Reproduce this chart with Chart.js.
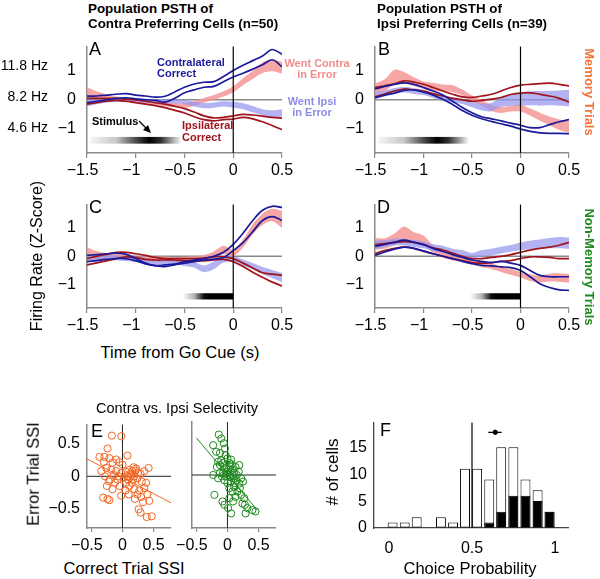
<!DOCTYPE html>
<html><head><meta charset="utf-8">
<script src="https://cdn.jsdelivr.net/npm/chart.js@4.4.0/dist/chart.umd.min.js"></script>
<style>
html,body{margin:0;padding:0;background:#fff;}
#root{position:relative;width:600px;height:579px;overflow:hidden;font-family:"Liberation Sans",Arial,Helvetica,sans-serif;}
canvas{position:absolute;}
.t{position:absolute;white-space:nowrap;line-height:1;}
</style></head><body><div id="root"></div>
<script>
// ---------- DATA ----------
const time = [-1.5,-1.4,-1.3,-1.2,-1.1,-1.0,-0.9,-0.8,-0.7,-0.6,-0.5,-0.4,-0.3,-0.2,-0.1,0,0.1,0.2,0.3,0.4,0.5];
const timeTicks = [-1.5,-1,-0.5,0,0.5];
const zTicks = [-1,0,1];

// Panel A (contra preferring, memory)
const aContraHi = [0.13,0.13,0.16,0.19,0.21,0.16,0.13,0.09,0.12,0.27,0.43,0.54,0.60,0.62,0.80,1.00,1.18,1.34,1.50,1.72,1.56];
const aContraLo = [-0.10,-0.05,0.00,0.05,0.07,0.03,0.00,-0.02,-0.08,0.05,0.24,0.34,0.43,0.46,0.62,0.78,0.91,1.05,1.20,1.37,1.13];
const aIpsiHi   = [0.05,0.05,0.05,0.05,0.02,0.00,-0.05,-0.10,-0.15,-0.22,-0.30,-0.42,-0.55,-0.62,-0.60,-0.55,-0.50,-0.52,-0.56,-0.60,-0.63];
const aIpsiLo   = [-0.15,-0.10,-0.05,-0.02,-0.05,-0.10,-0.15,-0.20,-0.27,-0.36,-0.45,-0.58,-0.68,-0.72,-0.68,-0.66,-0.60,-0.65,-0.75,-0.88,-1.02];
const aErrContraMid  = [0.25,0.15,0.08,0.03,0.00,-0.05,-0.08,-0.10,-0.15,-0.18,-0.20,-0.12,-0.02,0.08,0.20,0.36,0.62,0.85,1.10,1.18,1.10];
const aErrContraHalf = [0.18,0.14,0.10,0.08,0.08,0.08,0.07,0.07,0.07,0.07,0.08,0.08,0.08,0.08,0.09,0.10,0.12,0.14,0.18,0.20,0.20];
const aErrIpsiMid    = [-0.10,-0.05,-0.02,0.00,0.00,-0.02,-0.03,-0.05,-0.05,-0.06,-0.08,-0.15,-0.20,-0.18,-0.14,-0.17,-0.22,-0.32,-0.43,-0.48,-0.45];
const aErrIpsiHalf   = [0.12,0.10,0.08,0.07,0.07,0.07,0.07,0.07,0.07,0.07,0.07,0.08,0.09,0.09,0.09,0.10,0.10,0.11,0.11,0.12,0.13];

// Panel B (ipsi preferring, memory)
const bContraHi = [0.37,0.46,0.53,0.58,0.53,0.42,0.30,0.16,-0.05,-0.26,-0.44,-0.58,-0.65,-0.72,-0.80,-0.87,-0.95,-0.95,-0.85,-0.75,-0.68];
const bContraLo = [0.07,0.16,0.23,0.32,0.34,0.26,0.16,0.02,-0.16,-0.37,-0.53,-0.65,-0.74,-0.82,-0.90,-1.00,-1.08,-1.13,-1.15,-1.15,-1.16];
const bIpsiHi   = [0.42,0.48,0.55,0.65,0.61,0.53,0.42,0.30,0.19,0.10,0.08,0.13,0.19,0.30,0.42,0.50,0.53,0.55,0.57,0.53,0.47];
const bIpsiLo   = [0.10,0.20,0.30,0.37,0.34,0.30,0.21,0.13,0.05,0.00,-0.05,-0.02,0.02,0.08,0.18,0.23,0.24,0.19,0.13,0.05,-0.08];
const bErrContraMid  = [0.38,0.50,0.78,0.75,0.62,0.50,0.45,0.40,0.38,0.25,0.05,-0.10,-0.28,-0.35,-0.30,-0.28,-0.42,-0.58,-0.72,-0.85,-0.92];
const bErrContraHalf = [0.18,0.20,0.25,0.20,0.15,0.13,0.13,0.12,0.12,0.10,0.10,0.10,0.10,0.10,0.10,0.12,0.12,0.14,0.15,0.18,0.20];
const bErrIpsiMid    = [0.15,0.22,0.30,0.35,0.30,0.25,0.15,0.05,0.00,-0.05,-0.15,-0.25,-0.25,-0.08,0.00,0.02,0.05,0.05,0.06,0.06,0.06];
const bErrIpsiHalf   = [0.12,0.10,0.10,0.10,0.10,0.09,0.09,0.09,0.09,0.09,0.10,0.12,0.14,0.16,0.20,0.22,0.24,0.25,0.25,0.26,0.28];

// Panel C (contra preferring, non-memory)
const cContraHi = [0.03,0.06,0.09,0.11,0.07,-0.08,-0.24,-0.33,-0.30,-0.27,-0.19,-0.13,-0.08,0.00,0.14,0.42,0.81,1.26,1.62,1.76,1.72];
const cContraLo = [-0.19,-0.15,-0.11,-0.08,-0.08,-0.16,-0.27,-0.33,-0.36,-0.30,-0.24,-0.19,-0.13,-0.10,-0.04,0.20,0.48,0.87,1.26,1.40,1.26];
const cIpsiHi   = [-0.08,0.00,0.07,0.14,0.14,0.09,0.03,-0.04,-0.08,-0.08,-0.08,-0.08,-0.06,-0.02,-0.02,-0.08,-0.24,-0.41,-0.58,-0.63,-0.67];
const cIpsiLo   = [-0.30,-0.23,-0.16,-0.08,-0.02,-0.04,-0.11,-0.13,-0.13,-0.13,-0.16,-0.16,-0.16,-0.13,-0.11,-0.19,-0.36,-0.56,-0.74,-0.91,-1.04];
const cErrContraMid  = [0.10,0.03,0.00,0.00,0.00,-0.08,-0.10,-0.10,-0.10,-0.12,-0.12,-0.10,-0.05,0.05,0.22,0.12,0.45,0.95,1.30,1.45,1.30];
const cErrContraHalf = [0.22,0.15,0.12,0.10,0.10,0.09,0.09,0.09,0.09,0.09,0.10,0.10,0.10,0.12,0.15,0.12,0.14,0.18,0.20,0.22,0.30];
const cErrIpsiMid    = [-0.05,-0.05,-0.05,-0.05,-0.08,-0.10,-0.15,-0.20,-0.20,-0.20,-0.25,-0.30,-0.44,-0.32,-0.12,-0.10,-0.22,-0.35,-0.50,-0.62,-0.75];
const cErrIpsiHalf   = [0.12,0.10,0.09,0.09,0.09,0.09,0.09,0.09,0.09,0.09,0.09,0.10,0.12,0.14,0.10,0.10,0.11,0.11,0.12,0.14,0.16];

// Panel D (ipsi preferring, non-memory)
const dContraHi = [0.35,0.42,0.49,0.57,0.49,0.41,0.28,0.17,0.06,-0.04,-0.13,-0.18,-0.22,-0.18,-0.24,-0.32,-0.50,-0.67,-0.72,-0.72,-0.72];
const dContraLo = [0.03,0.15,0.25,0.32,0.28,0.19,0.09,0.00,-0.08,-0.18,-0.26,-0.32,-0.34,-0.37,-0.40,-0.50,-0.72,-0.97,-1.10,-1.18,-1.20];
const dIpsiHi   = [0.41,0.45,0.49,0.52,0.49,0.41,0.30,0.22,0.11,0.00,-0.08,-0.08,-0.04,0.00,0.06,0.14,0.22,0.28,0.32,0.39,0.49];
const dIpsiLo   = [0.09,0.20,0.28,0.32,0.28,0.17,0.09,0.00,-0.08,-0.15,-0.22,-0.24,-0.22,-0.18,-0.15,-0.08,-0.02,-0.02,-0.04,-0.08,-0.08];
const dErrContraMid  = [0.45,0.45,0.60,0.80,0.65,0.55,0.25,0.05,-0.05,-0.10,-0.20,-0.28,-0.35,-0.45,-0.55,-0.65,-0.75,-0.80,-0.75,-0.75,-0.78];
const dErrContraHalf = [0.20,0.18,0.20,0.25,0.20,0.18,0.12,0.10,0.10,0.10,0.10,0.10,0.10,0.10,0.10,0.10,0.12,0.12,0.14,0.15,0.15];
const dErrIpsiMid    = [0.40,0.45,0.50,0.50,0.45,0.40,0.30,0.25,0.15,0.10,0.02,0.10,0.15,0.22,0.28,0.35,0.40,0.43,0.46,0.48,0.46];
const dErrIpsiHalf   = [0.15,0.12,0.12,0.12,0.12,0.12,0.12,0.12,0.12,0.12,0.10,0.12,0.12,0.12,0.12,0.14,0.15,0.16,0.18,0.20,0.20];

// Panel E (SSI scatter)
const eMemory = [[-0.17,0.63],[-0.02,0.62],[-0.24,0.43],[-0.37,0.30],[-0.21,0.28],[-0.10,0.26],[0.08,0.32],[-0.30,0.22],[-0.16,0.21],[-0.05,0.22],
 [-0.26,0.13],[-0.18,0.10],[-0.10,0.08],[-0.02,0.05],[0.06,0.07],[0.11,0.10],[0.16,0.08],[0.21,0.09],[0.14,0.02],[0.19,0.00],
 [0.24,-0.03],[0.29,0.04],[0.42,0.13],[-0.34,0.08],[-0.28,0.00],[-0.20,-0.05],[-0.12,-0.10],[-0.04,-0.15],[0.06,-0.10],[0.11,-0.15],
 [0.19,-0.20],[0.27,-0.22],[0.35,-0.18],[0.40,-0.28],[0.43,-0.38],[0.30,-0.32],[0.24,-0.28],[-0.31,-0.33],[-0.21,-0.37],[-0.24,-0.35],
 [0.26,-0.51],[0.29,-0.56],[0.39,-0.63],[0.47,-0.62],[0.12,-0.02],[0.17,-0.05],[0.09,-0.05],[0.02,-0.02],[-0.06,0.00],[-0.14,0.02],
 [0.22,0.12],[0.18,0.14],[0.13,0.04],[0.25,0.05],[0.31,-0.08],[0.15,-0.10],[0.05,-0.22],[-0.08,-0.05],[-0.25,-0.15],[-0.16,-0.20],
 [0.33,-0.40],[0.20,-0.35],[0.10,-0.28],[-0.02,-0.30],[-0.29,0.30],[0.35,0.08],[0.00,0.18],[-0.22,-0.08],[0.38,-0.10],[0.08,0.00]];
const eMemoryFit = [[-0.57,0.27],[0.78,-0.41]];
const eNonMemory = [[-0.14,0.61],[-0.10,0.55],[-0.23,0.45],[-0.06,0.48],[-0.04,0.40],[-0.18,0.35],[-0.12,0.33],[0.00,0.25],[0.06,0.23],[0.03,0.18],
 [-0.07,0.18],[-0.12,0.15],[-0.17,0.12],[-0.05,0.10],[0.01,0.08],[0.08,0.08],[0.13,0.12],[0.19,0.15],[0.11,0.03],[0.03,0.00],
 [-0.02,-0.02],[-0.07,0.03],[-0.12,0.03],[-0.23,0.00],[-0.15,-0.05],[-0.05,-0.08],[0.06,-0.10],[0.14,-0.08],[0.22,-0.05],[0.19,-0.13],
 [0.11,-0.18],[0.03,-0.20],[0.08,-0.25],[0.16,-0.25],[0.22,-0.30],[0.27,-0.35],[0.13,-0.33],[0.24,-0.43],[0.32,-0.50],[0.40,-0.53],
 [0.45,-0.55],[0.29,-0.58],[0.06,-0.58],[-0.05,-0.45],[-0.08,-0.40],[-0.21,-0.30],[0.09,-0.40],[0.01,-0.50],[0.00,0.05],[0.05,0.13],
 [-0.01,0.12],[0.09,0.00],[0.15,0.00],[-0.09,-0.02],[0.00,-0.12],[0.10,-0.05],[-0.03,0.30],[0.04,-0.03],[0.12,-0.12],[0.20,-0.20],
 [-0.10,0.22],[0.07,0.16],[0.18,0.05],[-0.15,0.20],[0.25,-0.10],[0.28,-0.45],[0.03,-0.35],[-0.02,0.02]];
const eNonMemoryFit = [[-0.50,0.56],[0.48,-0.53]];
const ssiTicksX = [-0.5,0,0.5];
const ssiTicksY = [-0.5,0,0.5];

// Panel F (choice probability histogram)
const cpBins = [0.022,0.095,0.167,0.240,0.313,0.386,0.458,0.531,0.604,0.676,0.749,0.822,0.895,0.967];
const cpAll  = [1,1,2,0,2,1,11,11,9,15,15,9,7,3];
const cpSig  = [0,0,0,0,0,0,0,0,1,3,6,6,5,3];
const cpMean = [0.64, 17.8];
const cpMeanErr = [0.598, 0.679];
const cpTicksX = [0,0.5,1];
const cpTicksY = [0,5,10,15];

// ---------- STYLE ----------
const FONT = '"Liberation Sans", Arial, Helvetica, sans-serif';
const BLUE = '#1a1a9c', RED = '#a0141c';
const PINK = 'rgba(246,150,150,0.85)', LAV = 'rgba(150,150,240,0.72)';
const PINK_T = '#f08c8c', LAV_T = '#8c8ce8';
const ORANGE = '#f26522', GREEN = '#1e8a1e';
const AXIS = '#8a8a8a';
const root = document.getElementById('root');

function mkCanvas(rect, pad){
  const c = document.createElement('canvas');
  const w = rect.r-rect.l+pad.l+pad.r, h = rect.b-rect.t+pad.t+pad.b;
  c.width = w; c.height = h;
  c.style.left = (rect.l-pad.l)+'px'; c.style.top = (rect.t-pad.t)+'px';
  c.style.width = w+'px'; c.style.height = h+'px';
  root.appendChild(c); return c;
}
function text(str, x, y, o={}){
  const d = document.createElement('div');
  d.className = 't'; d.textContent = str;
  d.style.left = x+'px'; d.style.top = y+'px';
  d.style.fontSize = (o.size||16)+'px';
  if (o.bold) d.style.fontWeight = 'bold';
  d.style.color = o.color || '#000';
  const tx = o.align==='center' ? '-50%' : (o.align==='right' ? '-100%' : '0');
  d.style.transform = o.rot ? `translate(-50%,-50%) rotate(${o.rot}deg)` : `translate(${tx},-50%)`;
  root.appendChild(d);
}
const fmtX = v => v < 0 ? '\u2212' + Math.abs(v) + '  ' : String(v);
const fmtY = v => v < 0 ? '\u2212' + Math.abs(v) : String(v);

function refPlugin(cfg){
  function draw(chart, after){
    const {ctx, chartArea:a, scales:{x, y}} = chart;
    ctx.save();
    if (cfg.stim && !after){
      const s = cfg.stim;
      const x0 = x.getPixelForValue(s.stops[0][0]), x1 = x.getPixelForValue(s.stops[s.stops.length-1][0]);
      const y0 = y.getPixelForValue(s.top), y1 = y.getPixelForValue(s.bottom);
      const g = ctx.createLinearGradient(x0,0,x1,0);
      s.stops.forEach(([t,al]) => g.addColorStop((x.getPixelForValue(t)-x0)/(x1-x0), `rgba(0,0,0,${al})`));
      ctx.fillStyle = g; ctx.fillRect(x0, y0, x1-x0, y1-y0);
    }
    if (cfg.h && !!cfg.h.after === after){
      const py = y.getPixelForValue(0);
      ctx.strokeStyle = cfg.h.color; ctx.lineWidth = cfg.h.width;
      ctx.beginPath(); ctx.moveTo(a.left, py); ctx.lineTo(a.right, py); ctx.stroke();
    }
    if (cfg.v && !!cfg.v.after === after){
      const px = x.getPixelForValue(cfg.v.value);
      ctx.strokeStyle = cfg.v.color; ctx.lineWidth = cfg.v.width;
      ctx.beginPath(); ctx.moveTo(px, a.top); ctx.lineTo(px, a.bottom); ctx.stroke();
    }
    ctx.restore();
  }
  return {id:'ref', beforeDatasetsDraw(c){draw(c,false);}, afterDatasetsDraw(c){draw(c,true);}};
}
const setTicks = arr => s => { s.ticks = arr.map(v => ({value:v})); };

// ---------- TIME PANELS ----------
const TPAD = {l:50, r:16, t:14, b:30};
function timeChart(rect, s, stim){
  const c = mkCanvas(rect, TPAD);
  const pts = arr => time.map((t,i) => ({x:t, y:arr[i]}));
  const line = (arr, col) => ({data:pts(arr), borderColor:col, borderWidth:1.7, pointRadius:0, fill:false, tension:0.35});
  const band = (mid, half, col) => [
    {data:time.map((t,i)=>({x:t,y:mid[i]-half[i]})), borderColor:'rgba(0,0,0,0)', borderWidth:0, pointRadius:0, fill:false, tension:0.3},
    {data:time.map((t,i)=>({x:t,y:mid[i]+half[i]})), borderColor:'rgba(0,0,0,0)', borderWidth:0, pointRadius:0, fill:'-1', backgroundColor:col, tension:0.3}
  ];
  new Chart(c, {
    type:'line',
    data:{datasets:[
      line(s.cHi, BLUE), line(s.cLo, BLUE), line(s.iHi, RED), line(s.iLo, RED),
      ...band(s.lMid, s.lHalf, LAV), ...band(s.pMid, s.pHalf, PINK)
    ]},
    options:{
      responsive:false, animation:false, events:[],
      layout:{padding:{top:TPAD.t, right:TPAD.r, left:0, bottom:0}},
      plugins:{legend:{display:false}, tooltip:{enabled:false}},
      scales:{
        x:{type:'linear', min:-1.5, max:0.5, afterBuildTicks:setTicks(timeTicks), afterFit:sc=>{sc.height=TPAD.b;},
           grid:{display:true, drawOnChartArea:false, drawTicks:true, tickLength:5, color:AXIS, lineWidth:1.2},
           border:{display:true, color:AXIS, width:1.5},
           ticks:{font:{size:16, family:FONT}, color:'#000', padding:3, maxRotation:0, autoSkip:false, callback:v=>fmtX(v)}},
        y:{type:'linear', min:-1.82, max:1.82, afterBuildTicks:setTicks(zTicks), afterFit:sc=>{sc.width=TPAD.l;},
           grid:{display:true, drawOnChartArea:false, drawTicks:false},
           border:{display:true, color:AXIS, width:1.5},
           ticks:{font:{size:16, family:FONT}, color:'#000', padding:11, callback:v=>fmtY(v)}}
      }
    },
    plugins:[refPlugin({h:{color:AXIS, width:1.4}, v:{value:0, color:'#000', width:1.2, after:true}, stim})]
  });
}
const stimEarly = {top:-1.27, bottom:-1.5, stops:[[-1.47,0.03],[-1.2,0.22],[-0.98,0.75],[-0.86,1],[-0.74,0.8],[-0.53,0]]};
const stimLate  = {top:-1.3, bottom:-1.52, stops:[[-0.52,0],[-0.4,0.3],[-0.3,0.95],[-0.25,1],[0,1]]};

timeChart({l:87,t:40,r:282,b:153}, {cHi:aContraHi,cLo:aContraLo,iHi:aIpsiHi,iLo:aIpsiLo,pMid:aErrContraMid,pHalf:aErrContraHalf,lMid:aErrIpsiMid,lHalf:aErrIpsiHalf}, stimEarly);
timeChart({l:375,t:40,r:569,b:153}, {cHi:bContraHi,cLo:bContraLo,iHi:bIpsiHi,iLo:bIpsiLo,pMid:bErrContraMid,pHalf:bErrContraHalf,lMid:bErrIpsiMid,lHalf:bErrIpsiHalf}, stimEarly);
timeChart({l:87,t:198,r:282,b:308}, {cHi:cContraHi,cLo:cContraLo,iHi:cIpsiHi,iLo:cIpsiLo,pMid:cErrContraMid,pHalf:cErrContraHalf,lMid:cErrIpsiMid,lHalf:cErrIpsiHalf}, stimLate);
timeChart({l:375,t:198,r:569,b:308}, {cHi:dContraHi,cLo:dContraLo,iHi:dIpsiHi,iLo:dIpsiLo,pMid:dErrContraMid,pHalf:dErrContraHalf,lMid:dErrIpsiMid,lHalf:dErrIpsiHalf}, stimLate);

// ---------- SCATTER PANELS ----------
function ssiChart(rect, pad, pts, fit, col, showY){
  const c = mkCanvas(rect, pad);
  new Chart(c, {
    type:'scatter',
    data:{datasets:[
      {data:pts.map(p=>({x:p[0],y:p[1]})), pointRadius:3.6, pointBorderWidth:1, borderColor:col, backgroundColor:'rgba(0,0,0,0)'},
      {type:'line', data:fit.map(p=>({x:p[0],y:p[1]})), showLine:true, borderColor:col, borderWidth:1, pointRadius:0, fill:false}
    ]},
    options:{
      responsive:false, animation:false, events:[],
      layout:{padding:{top:pad.t, right:pad.r, left:0, bottom:0}},
      plugins:{legend:{display:false}, tooltip:{enabled:false}},
      scales:{
        x:{type:'linear', min:-0.57, max:0.78, afterBuildTicks:setTicks(ssiTicksX), afterFit:sc=>{sc.height=pad.b;},
           grid:{display:true, drawOnChartArea:false, drawTicks:true, tickLength:4, color:AXIS, lineWidth:1.2},
           border:{display:true, color:AXIS, width:1.5},
           ticks:{font:{size:16, family:FONT}, color:'#000', padding:4, maxRotation:0, autoSkip:false, callback:v=>fmtX(v)}},
        y:{type:'linear', min:-0.8, max:0.8, afterBuildTicks:setTicks(ssiTicksY), afterFit:sc=>{sc.width=pad.l;},
           grid:{display:true, drawOnChartArea:false, drawTicks:false},
           border:{display:true, color:AXIS, width:1.5},
           ticks:{display:showY, font:{size:16, family:FONT}, color:'#000', padding:7, callback:v=>fmtY(v)}}
      }
    },
    plugins:[refPlugin({h:{color:'#222', width:1}, v:{value:0, color:'#222', width:1}})]
  });
}
ssiChart({l:87,t:422,r:172,b:528}, {l:52,r:4,t:14,b:30}, eMemory, eMemoryFit, ORANGE, true);
ssiChart({l:192,t:422,r:277,b:528}, {l:26,r:4,t:14,b:30}, eNonMemory, eNonMemoryFit, GREEN, false);

// ---------- HISTOGRAM ----------
(function(){
  const pad = {l:45, r:14, t:14, b:30};
  const c = mkCanvas({l:374,t:420,r:568,b:528}, pad);
  new Chart(c, {
    type:'bar',
    data:{datasets:[
      {type:'scatter', data:[{x:cpMean[0], y:cpMean[1]}], pointRadius:2.2, backgroundColor:'#000', borderColor:'#000', order:0},
      {type:'line', data:cpMeanErr.map(v=>({x:v, y:cpMean[1]})), borderColor:'#000', borderWidth:1.2, pointRadius:0, fill:false, order:0},
      {data:cpBins.map((b,i)=>({x:b, y:cpSig[i] ? cpSig[i] : null})), backgroundColor:'#000', borderColor:'#000', borderWidth:1, grouped:false, barPercentage:0.83, categoryPercentage:1, order:1},
      {data:cpBins.map((b,i)=>({x:b, y:cpAll[i]})), backgroundColor:'#fff', borderColor:'#000', borderWidth:1, borderSkipped:false, grouped:false, barPercentage:0.83, categoryPercentage:1, order:2}
    ]},
    options:{
      responsive:false, animation:false, events:[],
      layout:{padding:{top:pad.t, right:pad.r, left:0, bottom:0}},
      plugins:{legend:{display:false}, tooltip:{enabled:false}},
      scales:{
        x:{type:'linear', min:-0.09, max:1.078, offset:false, afterBuildTicks:setTicks(cpTicksX), afterFit:sc=>{sc.height=pad.b;},
           grid:{display:true, drawOnChartArea:false, drawTicks:false},
           border:{display:true, color:'#444', width:1.3},
           ticks:{font:{size:16, family:FONT}, color:'#000', padding:11, maxRotation:0, autoSkip:false, callback:v=>String(v)}},
        y:{type:'linear', min:0, max:19.6, afterBuildTicks:setTicks(cpTicksY), afterFit:sc=>{sc.width=pad.l;},
           grid:{display:true, drawOnChartArea:false, drawTicks:false},
           border:{display:true, color:'#444', width:1.3},
           ticks:{font:{size:16, family:FONT}, color:'#000', padding:7}}
      }
    },
    plugins:[refPlugin({v:{value:0.5, color:'#000', width:1.2}})]
  });
})();

// ---------- TEXT ----------
text('Population PSTH of', 88, 9, {size:13.4, bold:true});
text('Contra Preferring Cells (n=50)', 88, 24, {size:13.4, bold:true});
text('Population PSTH of', 377, 9, {size:13.4, bold:true});
text('Ipsi Preferring Cells (n=39)', 377, 24, {size:13.4, bold:true});
text('11.8 Hz', 48, 65, {size:14, align:'right'});
text('8.2 Hz', 48, 96, {size:14, align:'right'});
text('4.6 Hz', 48, 127, {size:14, align:'right'});
text('A', 89, 49, {size:18});
text('B', 378, 49, {size:18});
text('C', 89, 207, {size:18});
text('D', 377, 207, {size:18});
text('E', 91, 431, {size:18});
text('F', 380, 430, {size:18});
text('Contralateral', 157, 62, {size:11, bold:true, color:BLUE});
text('Correct', 157, 73, {size:11, bold:true, color:BLUE});
text('Ipsilateral', 182, 125, {size:11, bold:true, color:RED});
text('Correct', 182, 137, {size:11, bold:true, color:RED});
text('Went Contra', 317, 63, {size:11, bold:true, color:PINK_T, align:'center'});
text('in Error', 317, 74, {size:11, bold:true, color:PINK_T, align:'center'});
text('Went Ipsi', 312, 101, {size:11, bold:true, color:LAV_T, align:'center'});
text('in Error', 312, 112, {size:11, bold:true, color:LAV_T, align:'center'});
text('Stimulus', 92, 121, {size:11, bold:true});
text('Memory Trials', 589, 92, {size:13, bold:true, color:'#f2743c', rot:90});
text('Non-Memory Trials', 589, 267, {size:13, bold:true, color:GREEN, rot:90});
text('Time from Go Cue (s)', 180, 352, {size:16.5, align:'center'});
text('Firing Rate (Z-Score)', 37, 256, {size:16, rot:-90});
text('Contra vs. Ipsi Selectivity', 177, 408, {size:14.5, align:'center'});
text('Error Trial SSI', 33, 474, {size:16.5, rot:-90});
text('Correct Trial SSI', 124, 568, {size:16.5, align:'center'});
text('# of cells', 332, 472, {size:17, rot:-90});
text('Choice Probability', 470, 568, {size:16.5, align:'center'});

// stimulus arrow
const svgNS = 'http://www.w3.org/2000/svg';
const svg = document.createElementNS(svgNS, 'svg');
svg.setAttribute('width', 600); svg.setAttribute('height', 579);
svg.style.position = 'absolute'; svg.style.left = '0'; svg.style.top = '0';
svg.innerHTML = '<line x1="139" y1="121" x2="147" y2="129" stroke="#000" stroke-width="1.3"/><polygon points="151,133 143,130 148,125" fill="#000"/>';
root.appendChild(svg);
</script></body></html>
